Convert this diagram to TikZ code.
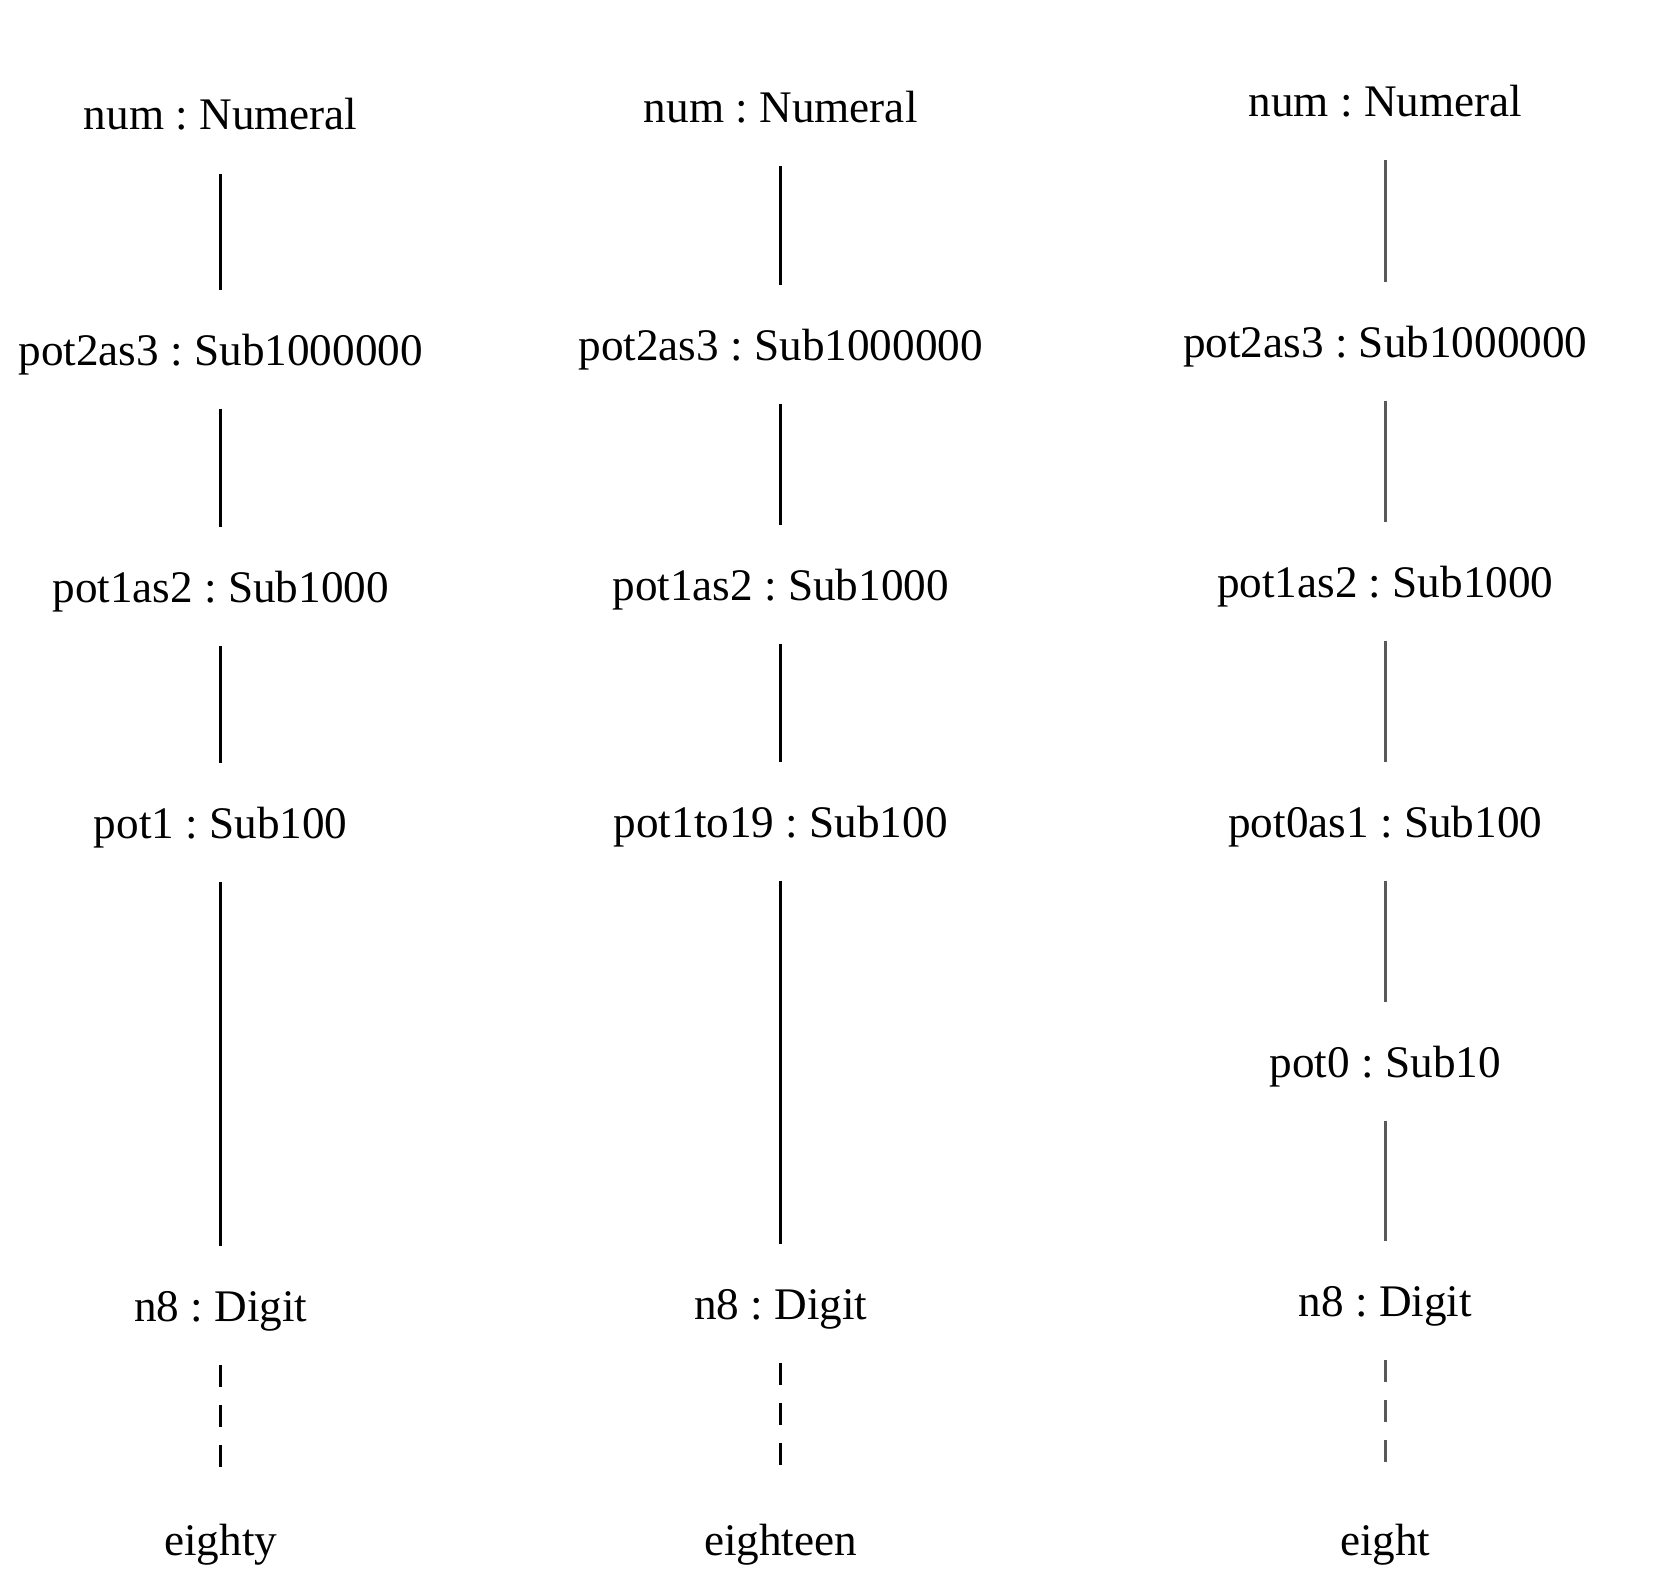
\documentclass[tikz,border=0pt]{standalone}
\usepackage{fontspec}
\setmainfont{Liberation Serif}
\frenchspacing
\definecolor{darkline}{gray}{0.35}
\tikzset{
  lbl/.style={anchor=base,inner sep=0pt,font=\fontsize{22.6}{27}\selectfont},
  link/.style={line width=1.5pt,shorten <=21.75pt,shorten >=37.75pt},
  trace/.style={link,dash pattern=on 11pt off 9pt}
}
\begin{document}
\begin{tikzpicture}[x=0.5pt,y=-0.5pt]
      \useasboundingbox (0,0) rectangle (1676,1584);
      % eighty
      \node[lbl] (a1) at (220.7,130) {num : Numeral};
      \node[lbl] (a2) at (220.7,365) {pot2as3 : Sub1000000};
      \node[lbl] (a3) at (220.7,602) {pot1as2 : Sub1000};
      \node[lbl] (a4) at (220.7,838) {pot1 : Sub100};
      \node[lbl] (a5) at (220.7,1321) {n8 : Digit};
      \node[lbl] (a6) at (220.7,1555) {eighty};
      \draw[link] (a1.base) -- (a2.base);
      \draw[link] (a2.base) -- (a3.base);
      \draw[link] (a3.base) -- (a4.base);
      \draw[link] (a4.base) -- (a5.base);
      \draw[trace] (a5.base) -- (a6.base);
      % eighteen
      \node[lbl] (b1) at (780.7,123) {num : Numeral};
      \node[lbl] (b2) at (780.7,360) {pot2as3 : Sub1000000};
      \node[lbl] (b3) at (780.7,600) {pot1as2 : Sub1000};
      \node[lbl] (b4) at (780.7,837) {pot1to19 : Sub100};
      \node[lbl] (b5) at (780.7,1319) {n8 : Digit};
      \node[lbl] (b6) at (780.7,1555) {eighteen};
      \draw[link] (b1.base) -- (b2.base);
      \draw[link] (b2.base) -- (b3.base);
      \draw[link] (b3.base) -- (b4.base);
      \draw[link] (b4.base) -- (b5.base);
      \draw[trace] (b5.base) -- (b6.base);
      % eight
      \node[lbl] (c1) at (1385.3,117) {num : Numeral};
      \node[lbl] (c2) at (1385.3,357) {pot2as3 : Sub1000000};
      \node[lbl] (c3) at (1385.3,597) {pot1as2 : Sub1000};
      \node[lbl] (c4) at (1385.3,837) {pot0as1 : Sub100};
      \node[lbl] (c5) at (1385.3,1077) {pot0 : Sub10};
      \node[lbl] (c6) at (1385.3,1316) {n8 : Digit};
      \node[lbl] (c7) at (1385.3,1555) {eight};
      \draw[link,darkline] (c1.base) -- (c2.base);
      \draw[link,darkline] (c2.base) -- (c3.base);
      \draw[link,darkline] (c3.base) -- (c4.base);
      \draw[link,darkline] (c4.base) -- (c5.base);
      \draw[link,darkline] (c5.base) -- (c6.base);
      \draw[trace,darkline] (c6.base) -- (c7.base);
    \end{tikzpicture}
\end{document}
